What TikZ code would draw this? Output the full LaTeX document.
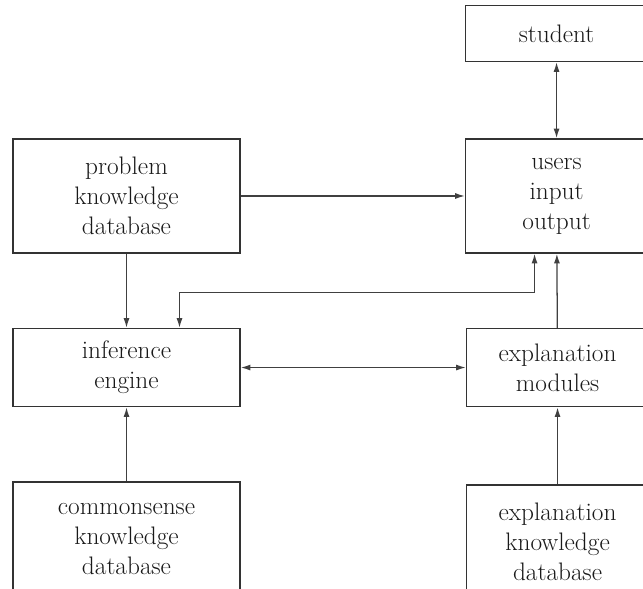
\documentclass[tikz,border=0pt]{standalone}
\usepackage{tikz}
\usetikzlibrary{arrows.meta,positioning}

\begin{document}
\begin{tikzpicture}[
  box/.style={draw=black!80, line width=1.1pt, text=black!90, align=center,
    font=\fontsize{18}{21.3}\selectfont, inner sep=0pt},
  wide/.style={box, minimum width=5.675cm},
  narrow/.style={box, minimum width=4.55cm},
  arrow/.style={-{Latex[length=2.4mm,width=1.5mm]}, draw=black!75, line width=0.9pt},
  twoway/.style={{Latex[length=2.4mm,width=1.5mm]}-{Latex[length=2.4mm,width=1.5mm]}, draw=black!75, line width=0.9pt}
]
\clip (0,0) rectangle (16.075,14.725);
\node[wide, minimum height=2.85cm] (problem) at (3.1625,9.825) {problem\\knowledge\\database};
\node[wide, minimum height=1.95cm, below=1.85cm of problem] (inference) {inference\\engine};
\node[wide, minimum height=2.85cm, below=1.85cm of inference] (common) {commonsense\\knowledge\\database};
\node[narrow, minimum height=2.85cm, right=5.6cm of problem] (users) {users\\input\\output};
\node[narrow, minimum height=1.95cm, right=5.625cm of inference] (modules) {explanation\\modules};
\node[narrow, minimum height=2.85cm, right=5.625cm of common, yshift=-0.075cm] (explain) {explanation\\knowledge\\database};
\node[narrow, minimum height=1.4cm, above=1.9cm of users] (student) {student};
\draw[twoway] (student) -- (users);
\draw[arrow] (problem) -- (users);
\draw[arrow] (problem) -- (inference);
\draw[twoway] ([xshift=-0.55cm]users.south) -- ++(0,-0.975) -| ([xshift=1.325cm]inference.north);
\draw[twoway] (inference) -- (modules);
\draw[arrow] (modules) -- (users);
\draw[arrow] (common) -- (inference);
\draw[arrow] (explain) -- (modules);
\end{tikzpicture}
\end{document}
